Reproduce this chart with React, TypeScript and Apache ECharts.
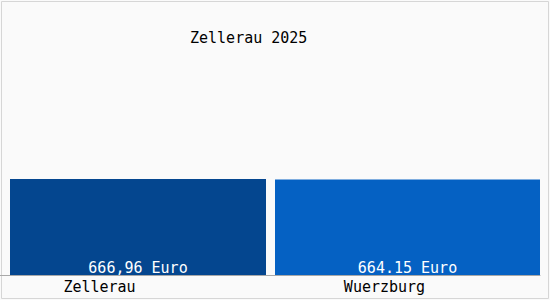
import React, { useEffect, useRef } from "react";
import * as echarts from "echarts";

const categories = ["Zellerau", "Wuerzburg"];
const zelleraufValues = [666.96, "-"];
const wuerzburgValues = ["-", 664.15];
const valueLabels = ["666,96 Euro", "664.15 Euro"];
const titleText = "Zellerau 2025";

const FONT = "DejaVu Sans Mono";

export default function App() {
  const ref = useRef<HTMLDivElement>(null);
  useEffect(() => {
    document.body.style.margin = "0";
    const chart = echarts.init(ref.current!, null, { renderer: "svg" });
    chart.setOption({
      animation: false,
      backgroundColor: "#fafafa",
      title: {
        text: titleText,
        left: 185,
        top: 25,
        textStyle: { fontFamily: FONT, fontSize: 15, fontWeight: "normal", color: "#000" },
      },
      grid: { left: 10, right: 10, top: 16, bottom: 25, containLabel: false },
      xAxis: {
        type: "category",
        data: categories,
        axisTick: { show: false },
        axisLine: { lineStyle: { color: "#a8a8a8", width: 1 } },
        axisLabel: {
          margin: 4,
          formatter: (v: string, i: number) => (i === 0 ? `{a|${v}}` : `{b|${v}}`),
          rich: {
            a: { fontFamily: FONT, fontSize: 15, color: "#000", padding: [0, 86, 0, 0] },
            b: { fontFamily: FONT, fontSize: 15, color: "#000", padding: [0, 46, 0, 0] },
          },
        },
      },
      yAxis: { type: "value", min: 0, max: 1800, show: false, splitLine: { show: false } },
      series: [
        {
          type: "bar",
          data: zelleraufValues,
          barWidth: 256,
          barGap: "-100%",
          itemStyle: { color: "#04468f" },
          label: {
            show: true,
            position: "insideBottom",
            distance: 0,
            formatter: () => valueLabels[0],
            fontFamily: FONT,
            fontSize: 15,
            color: "#fff",
          },
        },
        {
          type: "bar",
          data: wuerzburgValues,
          barWidth: 265,
          barGap: "-100%",
          itemStyle: { color: "#0561c3" },
          label: {
            show: true,
            position: "insideBottom",
            distance: 0,
            formatter: () => valueLabels[1],
            fontFamily: FONT,
            fontSize: 15,
            color: "#fff",
          },
        },
      ],
      graphic: [
        {
          type: "rect",
          shape: { x: 1.5, y: 1.5, width: 547, height: 297 },
          style: { fill: "none", stroke: "#d6d6d6", lineWidth: 1 },
          silent: true,
        },
        {
          type: "line",
          shape: { x1: 0, y1: 275.5, x2: 10, y2: 275.5 },
          style: { stroke: "#a8a8a8", lineWidth: 1 },
          silent: true,
        },
      ],
    });
    return () => chart.dispose();
  }, []);
  return <div ref={ref} style={{ width: 550, height: 300 }} />;
}
